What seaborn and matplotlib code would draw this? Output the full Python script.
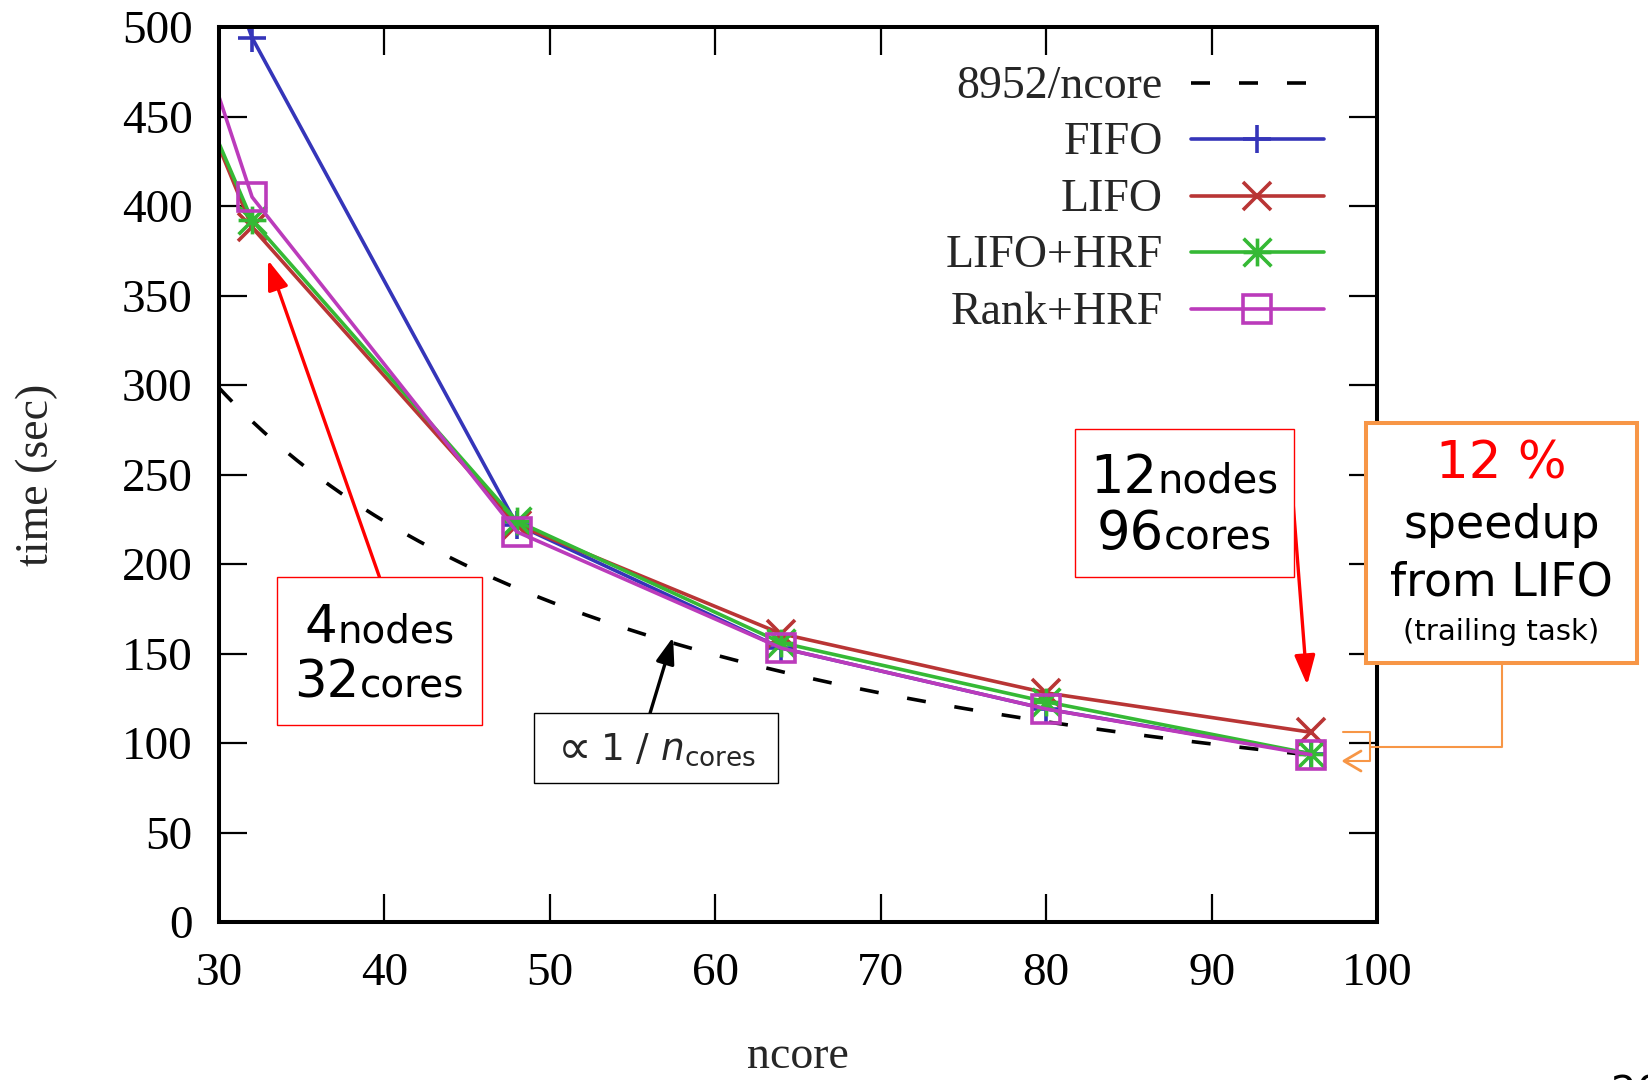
import numpy as np
import pandas as pd
import matplotlib
matplotlib.use("Agg")
import matplotlib.pyplot as plt
import seaborn as sns
from matplotlib.path import Path
from matplotlib.patches import Rectangle
from matplotlib.lines import Line2D
from matplotlib.offsetbox import TextArea, HPacker, VPacker, AnnotationBbox

# ---- data -------------------------------------------------------------
ncore = [16, 32, 48, 64, 80, 96]
fifo = [900, 494, 222, 153, 119, 94]
lifo = [748, 388, 222, 161, 128, 106]
lifo_hrf = [736, 392, 224, 156, 123, 94]
rank_hrf = [853, 405, 218, 153, 119, 93.5]

ideal_work = 8952          # total work in core-seconds
ideal_from, ideal_to = 30, 97

series_names = ["FIFO", "LIFO", "LIFO+HRF", "Rank+HRF"]
series_values = [fifo, lifo, lifo_hrf, rank_hrf]
ideal_label = "8952/ncore"

x_ticks = [30, 40, 50, 60, 70, 80, 90, 100]
y_ticks = [0, 50, 100, 150, 200, 250, 300, 350, 400, 450, 500]

# ---- figure geometry helpers (pixels from top-left) --------------------
W, H = 1649, 1080
def fx(px):
    return px / W
def fy(py):
    return 1 - py / H

sns.set_theme(style="ticks")
plt.rcParams["font.family"] = ["Liberation Serif", "DejaVu Serif"]
plt.rcParams["mathtext.fontset"] = "dejavusans"
SANS = ["DejaVu Sans"]

fig = plt.figure(figsize=(W / 100, H / 100), dpi=100)
ax = fig.add_axes([fx(219), fy(922), (1377 - 219) / W, (922 - 27) / H])

# gnuplot-style "star": plus and cross overlaid
star = Path([(-1, 0), (1, 0), (0, -1), (0, 1), (-1, -1), (1, 1), (-1, 1), (1, -1)],
            [Path.MOVETO, Path.LINETO] * 4)

styles = {
    "FIFO": dict(color="#3535b9", marker="+", ms=20),
    "LIFO": dict(color="#b93535", marker="x", ms=20),
    "LIFO+HRF": dict(color="#35b935", marker=star, ms=20),
    "Rank+HRF": dict(color="#bb3bbb", marker="s", ms=19.5),
}
LW = 2.6
DASH = (0, (19 / 1.389 / LW, 29 / 1.389 / LW))

df = pd.DataFrame({"ncore": ncore, **dict(zip(series_names, series_values))})
long = df.melt(id_vars="ncore", var_name="scheduler", value_name="time")

# ideal scaling curve
xs = np.linspace(ideal_from, ideal_to, 300)
sns.lineplot(x=xs, y=ideal_work / xs, color="black", lw=LW, linestyle=DASH,
             ax=ax, errorbar=None, legend=False)

for name in series_names:
    st = styles[name]
    sns.lineplot(data=long[long["scheduler"] == name], x="ncore", y="time",
                 color=st["color"], lw=LW, marker=st["marker"], ms=st["ms"],
                 mew=LW, mfc="none", mec=st["color"], ax=ax,
                 errorbar=None, legend=False)

ax.set_xlim(30, 100)
ax.set_ylim(0, 500)
ax.set_xticks(x_ticks)
ax.set_yticks(y_ticks)
ax.tick_params(direction="in", length=20, width=1.6, top=True, right=True,
               labelsize=34, pad=19, colors="black")
ax.tick_params(axis="x", pad=22)
for sp in ax.spines.values():
    sp.set_linewidth(2.9)
    sp.set_color("black")
ax.set_xlabel("ncore", fontsize=33, va="center")
ax.xaxis.set_label_coords(0.5, (922 - 1057) / 895)
ax.set_ylabel("time (sec)", fontsize=33, va="center")
ax.yaxis.set_label_coords((37 - 219) / 1158, 0.5)
ax.set_facecolor("white")

# ---- key (labels right-aligned, sample to the right) -------------------
key_rows = [82.7, 139, 195.7, 252, 308.7]
hx0, hx1, hm, tx = 1191, 1324, 1257, 1163
key_labels = [ideal_label] + series_names
for i, (lab, ry) in enumerate(zip(key_labels, key_rows)):
    fig.text(fx(tx), fy(ry + 15), lab, ha="right", va="baseline", fontsize=33)
    if i == 0:
        fig.add_artist(Line2D([fx(hx0), fx(hx1)], [fy(ry), fy(ry)], color="black",
                              lw=LW, linestyle=DASH, transform=fig.transFigure))
    else:
        st = styles[lab]
        fig.add_artist(Line2D([fx(hx0), fx(hx1)], [fy(ry), fy(ry)], color=st["color"],
                              lw=LW, transform=fig.transFigure))
        fig.add_artist(Line2D([fx(hm)], [fy(ry)], color=st["color"], lw=0,
                              marker=st["marker"], ms=st["ms"], mew=LW, mfc="none",
                              mec=st["color"], transform=fig.transFigure))

# ---- callouts ----------------------------------------------------------
def frame(x0, y0, x1, y1, color, lw, z=8):
    fig.add_artist(Rectangle((fx(x0), fy(y1)), fx(x1) - fx(x0), fy(y0) - fy(y1),
                             transform=fig.transFigure, facecolor="white",
                             edgecolor=color, lw=lw, zorder=z))

def stacked(rows, cx, cy, big, small, sep):
    packs = []
    for num, unit in rows:
        packs.append(HPacker(children=[
            TextArea(num, textprops=dict(size=big, family=SANS, color="black")),
            TextArea(unit, textprops=dict(size=small, family=SANS, color="black"))],
            align="baseline", pad=0, sep=0))
    box = VPacker(children=packs, align="center", pad=0, sep=sep)
    ab = AnnotationBbox(box, (fx(cx), fy(cy)), xycoords="figure fraction",
                        frameon=False, box_alignment=(0.5, 0.5), zorder=9,
                        annotation_clip=False)
    fig.add_artist(ab)

# 4 nodes / 32 cores
frame(277, 577, 482, 725, "#ff0000", 1.0)
stacked([("4", "nodes"), ("32", "cores")], 379.5, 656, 37, 28, 4)
ax.annotate("", xy=(32.96, 369.8), xytext=(39.7, 192.7),
            arrowprops=dict(arrowstyle="-|>,head_length=1.0,head_width=0.35",
                            color="#ff0000", lw=2.4, mutation_scale=18,
                            shrinkA=0, shrinkB=0), zorder=9, annotation_clip=False)

# 12 nodes / 96 cores
frame(1075, 429, 1294, 577, "#ff0000", 1.0)
stacked([("12", "nodes"), ("96", "cores")], 1184.5, 506, 38, 29, 3)
ax.annotate("", xy=(95.78, 132.4), xytext=(94.93, 234),
            arrowprops=dict(arrowstyle="-|>,head_length=1.0,head_width=0.35",
                            color="#ff0000", lw=2.4, mutation_scale=18,
                            shrinkA=0, shrinkB=0), zorder=9, annotation_clip=False)

# proportional-to-1/n callout
frame(534, 713, 778, 783, "black", 1.0)
fig.text(fx(575), fy(750), "\u221d", ha="center", va="center", fontsize=34,
         zorder=10, family=SANS)
fig.text(fx(600), fy(750), "1 / $n_{\\mathrm{cores}}$", ha="left",
         va="center", fontsize=27, zorder=10, family=SANS)
ax.annotate("", xy=(57.45, 159.2), xytext=(56.06, 116.8),
            arrowprops=dict(arrowstyle="-|>,head_length=1.0,head_width=0.35",
                            color="black", lw=2.4, mutation_scale=16,
                            shrinkA=0, shrinkB=0), zorder=9, annotation_clip=False)

# speedup callout
ORANGE = "#f79646"
frame(1366, 423, 1637, 663, ORANGE, 2.9, z=8)
fig.text(fx(1501.5), fy(478), "12 %", ha="center", va="baseline", fontsize=37,
         color="#ff0000", family=SANS, zorder=10)
fig.text(fx(1501.5), fy(538), "speedup", ha="center", va="baseline", fontsize=33,
         color="black", family=SANS, zorder=10)
fig.text(fx(1501.5), fy(595), "from LIFO", ha="center", va="baseline", fontsize=33,
         color="black", family=SANS, zorder=10)
fig.text(fx(1501.5), fy(640), "(trailing task)", ha="center", va="baseline",
         fontsize=21, color="black", family=SANS, zorder=10)

def seg(pts, **kw):
    fig.add_artist(Line2D([fx(p[0]) for p in pts], [fy(p[1]) for p in pts],
                          transform=fig.transFigure, **kw))

seg([(1502, 663), (1502, 747), (1370, 747)], color=ORANGE, lw=1.5, zorder=8)
seg([(1343, 732), (1370, 732), (1370, 761), (1345, 761)], color=ORANGE, lw=1.5, zorder=8)
seg([(1361, 751), (1344, 761), (1361, 771)], color=ORANGE, lw=2.0, zorder=8)

# page number peeking in at the corner
fig.text(fx(1611), fy(1105), "20", ha="left", va="baseline", fontsize=29,
         family=SANS, color="black")

fig.savefig("out.png", dpi=100, facecolor="white")
